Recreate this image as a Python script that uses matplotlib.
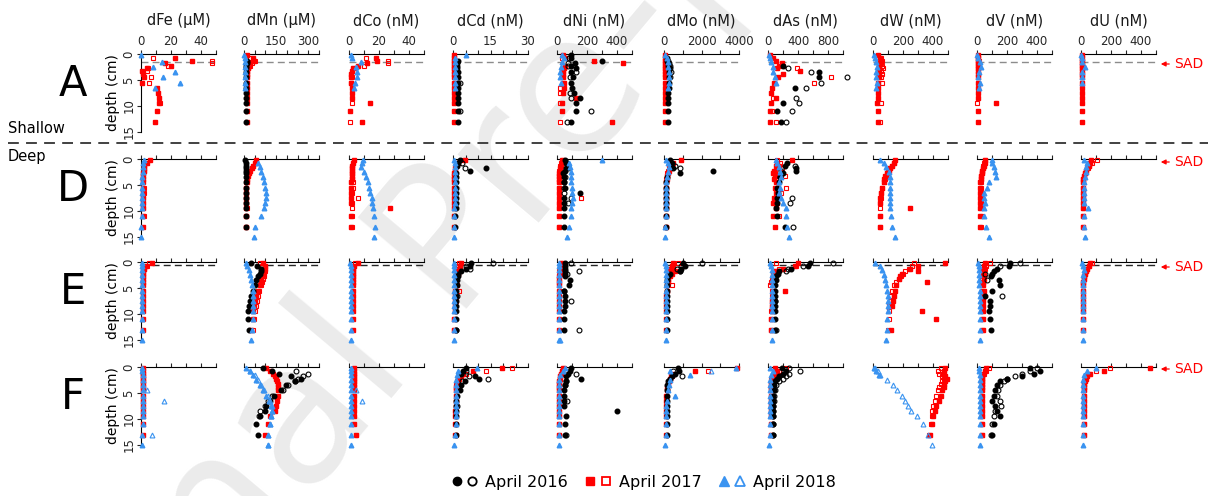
import numpy as np
import matplotlib.pyplot as plt
from matplotlib.lines import Line2D
from matplotlib.patches import FancyArrowPatch
from matplotlib.legend_handler import HandlerTuple

nan = np.nan

titles = ['dFe (μM)', 'dMn (μM)', 'dCo (nM)', 'dCd (nM)', 'dNi (nM)',
          'dMo (nM)', 'dAs (nM)', 'dW (nM)', 'dV (nM)', 'dU (nM)']
x_max = [50, 350, 50, 30, 500, 4000, 1000, 500, 500, 500]
x_step = [10, 50, 10, 5, 100, 1000, 200, 100, 100, 100]
x_labels = [[0, 20, 40], [0, 150, 300], [0, 20, 40], [0, 15, 30], [0, 200, 400],
            [0, 2000, 4000], [0, 400, 800], [0, 200, 400], [0, 200, 400], [0, 200, 400]]
stations = ['A', 'D', 'E', 'F']
sad_depth = [1.5, None, 0.5, None]

# sampling depths (cm) for each campaign
z16 = [0.25, 0.75, 1.25, 1.75, 2.25, 2.75, 3.5, 4.5, 5.5, 6.5, 7.5, 8.5, 9.5, 11, 13]
z17 = [0.25, 0.75, 1.25, 1.75, 2.25, 2.75, 3.25, 3.75, 4.5, 5.5, 6.5, 7.5, 8.5, 9.5, 11, 13]
z18 = [0.25, 0.75, 1.5, 2.5, 3.5, 4.5, 5.5, 6.5, 7.5, 8.5, 9.5, 11, 13, 15]

# ---- station A (shallow); columns Fe, Mn, Co, Cd, Ni, Mo, As, W, V, U
A_16 = [[],
        [nan, nan, 12, 12, 11, 11, 10, 10, 10, 10, 10, 10, 10, 10, 10],
        [],
        [nan, nan, 1.8, 1.5, 1.5, 1.5, 1.8, 1.8, 1.8, 2, 2, 2, 2, 1.8, 1.8],
        [95, 91, 302, 118, 96, 128, 90, 105, 91, 100, 110, 151, 124, 124, 91],
        [nan, 150, 150, 200, 200, 250, 250, 280, 280, 250, 200, 200, 200, 200, 200],
        [nan, nan, nan, nan, 200, nan, 680, 680, nan, 355, nan, nan, 200, 124, 178],
        [], [], []]
A_16o = [[], [], [],
         [nan, nan, nan, nan, nan, nan, nan, nan, 2.7, nan, nan, nan, nan, 2.7, nan],
         [nan, 80, nan, 73, 70, nan, 129, 84, nan, nan, 84, 90, nan, 224, 69],
         [nan, nan, 200, 250, 300, 300, 350, 300],
         [nan, nan, nan, nan, nan, 266, 578, 1050, 700, 500, nan, 378, 413, 320, 244],
         [], [], []]
A_17 = [[nan, 22.7, 33.8, 16, 20, 3.8, 0.5, 1.5, 2, 0.5, 10.4, 11, 11.8, 12, 10.4, 9.3],
        [15, 40, 45, 30, 25, 18, 15, 14, 13, 13, 12, 12, 12, 12, 12, 12],
        [nan, 17.8, 18.7, 12, 6, 2.7, 2, 1.5, 1.5, 1.2, 2.2, 2.2, 1.8, 14, 0.4, 8.9],
        [0.3, 0.3, 0.3, 0.4, 0.5, 0.4, 0.3, 0.3, 0.3, 0.3, 0.4, 0.4, 0.3, 0.3, 0.3, 0.3],
        [40, 55, 247, 440, 50, 45, 42, 40, 42, 45, 48, 40, 124, 35, 35, 367],
        [40, 50, 60, 60, 50, 50, 50, 50, 50, 50, 50, 50, 50, 50, 50, 50],
        [20, 67, 110, 180, 150, 120, 430, 200, 133, 80, 50, 40, 111, 40, 30, 30],
        [30, 45, 50, 45, 40, 40, 38, 40, 38, 35, 35, 30, 30, 28, 30, 35],
        [5, 8, 8, 6, 5, 5, 5, 5, 5, 5, 5, 5, 5, 127, 5, 5],
        [5, 5, 5, 5, 5, 5, 5, 5, 5, 5, 5, 5, 5, 5, 5, 5]]
A_17o = [[nan, 7.8, 47, 47, 17.8, 4.5, 4.2, nan, 6.4, 5, nan, nan, nan, 12.7, nan, nan],
         [nan, 30, 50, 35, 28, 20, 16, 15, 14, 14, 13],
         [nan, 11.5, 26, 26, 9.8, 3, nan, nan, 2.2, 1.5, nan, nan, nan, 2.2, nan, 0.8],
         [],
         [nan, 30, nan, nan, nan, nan, nan, nan, nan, nan, 18, 20, nan, 18, nan, 18],
         [],
         [nan, nan, nan, nan, 200, 390, nan, nan, 844, 613, nan, nan, 60, nan, 58, 111],
         [nan, 55, 60, 55, 60, 65, 55, 60, 55, 60, nan, nan, nan, 50, nan, 45],
         [nan, 5, 10, 6, nan, nan, nan, nan, nan, nan, nan, nan, nan, 3],
         []]
A_18 = [[0, nan, 13.8, 8.2, 22.7, 14.9, 26, 9.3],
        [2, 3, 4, 4, 3, 3, 3, 3],
        [1.5, 2, 8.2, 4.9, 5.5, 5.3, 4, 3],
        [5.1, 0.6, 0.8, 0.8, 0.6, 0.6, 0.6, 0.6],
        [35, 44, 30, 24, 22, 22, 29],
        [50, 150, 200, 200, 250, 250, 250, 200],
        [15, 25, 45, 60, 70, 95, 110],
        [5, 10, 20, 25, 22, 20, 25, 18],
        [2, 5, 18, 27, 10, 8, 22, 10],
        [3, 6, 8, 29, 8, 6, 6]]
A_18o = [[], [], [], [], [], [], [], [], [], []]

# ---- station D
D_16 = [[],
        [5, 8, 10, 10, 10, 10, 10, 10, 10, 9, 8, 8, 8, 8, 8],
        [],
        [2.7, 2, 1.5, 13, 6.7, 1.3, 1.3, 1.3, 1.3, 1.2, 1, 1, 1, 0.8, 0.8],
        [55, 62, 73, 60, 50, 40, 45, 45, 50, 151, 44, 44, 44, 44, 44],
        [300, 400, 350, 500, 2620, 835, 150, 120, 120, 120, 120, 120, 120, 120, 120],
        [nan, 250, 222, 378, 378, 200, 160, 150, 120, 130, 120, 120, 110, 120, 231],
        [], [], []]
D_16o = [[], [], [],
         [nan, 3.5, nan, 4.9],
         [nan, 65, nan, 73, nan, nan, 50, 44, 45, 44, 95, 73],
         [nan, nan, 600, 835],
         [nan, nan, 355, nan, 178, nan, 160, nan, nan, nan, 324, 289, nan, nan, 333],
         [], [], []]
D_17 = [[6, 3.8, 2, 2, 2, 1.5, 1.5, 1.5, 1, 1, 1, 1, 1, 1, 1, 1],
        [58, 50, 42, 36, 30, 25, 19, 15, 12, 11, 10, 10, 10, 10, 10, 10],
        [3, 2.5, 2, 2, 2, 2, 2, 2, 1.5, 1.5, 1.5, 1.5, 1.5, 27, 1.5, 1.5],
        [4.7, 2, 1, 0.8, 0.6, 0.5, 0.5, 0.5, 0.5, 0.5, 0.5, 0.5, 0.5, 0.5, 0.5, 0.5],
        [35, 30, 25, 20, 20, 15, 15, 12, 12, 12, 12, 12, 12, 12, 12, 12],
        [925, 480, 350, 300, 250, 200, 180, 150, 120, 100, 100, 100, 100, 100, 100, 100],
        [324, 120, 100, 150, 80, 70, 90, 80, 100, 90, 100, 80, 70, 100, 70, 90],
        [149, 138, 127, 116, 104, 93, 82, 75, 71, 60, 55, 49, 44, 249, 44, 44],
        [55, 50, 45, 40, 35, 30, 28, 25, 22, 22, 22, 22, 22, 22, 22, 22],
        [69, 60, 50, 40, 30, 25, 20, 15, 12, 12, 10, 10, 10, 10, 10, 10]]
D_17o = [[nan, 3, nan, nan, 2, nan, nan, nan, nan, 2, 2, 1.5, 1.5, 1.5, 2],
         [nan, nan, nan, nan, nan, nan, nan, nan, 11, 11, 10, 10, 10, 12, 10, 10],
         [nan, nan, nan, 2, nan, 2, nan, 2, 2.5, 2.5, 2, 6, 2, 2, 2, 2],
         [4, 1.5, nan, nan, nan, nan, nan, nan, nan, nan, nan, nan, nan, nan, 0.5, 0.5],
         [40, 25, 20, nan, 15, nan, 10, nan, 10, 10, 10, 158, 10, 10, 10, 10],
         [nan, 400, 300, 250, 200, 180, 150, 130, 120, 100, 100, 100, 100, 100, 100, 100],
         [120, 160, 140, 180, 120, 90, 222, 100, nan, 235, 178, 150, 120, 100, 147],
         [nan, 140, 125, 110, 100, 90, 85, 78, 70, 62, 55, 52, 48, 48, 44, 44],
         [50, 45, 40, 38, 35, 30, 28, 25, 25, 25, 25, 25, 28, 28, 30, 25],
         [107, 70, 55, 45, 35, 25, 20, 15, 15, 12, 12, 12, 12, 12, 12, 12]]
D_18 = [[2, 1.5, 1, 1, 0.8, 0.8, 0.8, 0.8, 0.8, 0.8, 0.5, 0.5, 0.3, 0.2],
        [nan, 65, 73, 81, 89, 93, 100, 104, 104, 100, 93, 81, 50, 45],
        [9, 8.5, 8, 10, 11.5, 12.7, 13, 14, 15, 15.5, 16, 16.5, 17, 16.5],
        [0.5, 0.8, 0.8, 0.6, 0.6, 0.6, 0.6, 0.6, 0.6, 0.6, 0.5, 0.4, 0.4, 0.3],
        [302, 80, 85, 90, 95, 95, 100, 100, 105, 100, 95, 90, 78, 69],
        [100, 200, 250, 200, 150, 120, 100, 100, 100, 80, 80, 80, 50, 50],
        [100, 120, 150, 160, 170, 147, 160, 150, 170, 200, 235, 235, 250, 280],
        [44, 71, 89, 104, 111, 111, 111, 113, 115, 115, 111, 122, 127, 149],
        [100, 100, 111, 118, 129, 78, 67, 45, 49, 55, 49, 49, 62, 78],
        [20, 40, 35, 30, 25, 22, 20, 18, 18, 18, 44, 20, 20, 29]]
D_18o = [[], [], [], [], [], [], [], [], [], []]

# ---- station E
E_16 = [[],
        [34, 60, 81, 78, 73, 65, 58, 50, 42, 34, 28, 23, 19, 19, 23],
        [],
        [7.3, 6.7, 5, 3, 2, 1.8, 1.5, 1.5, 1.3, 1.3, 1.3, 1.3, 1.2, 1.2, 1.2],
        [50, 55, 55, 50, 55, 55, 84, 80, 44, 50, 51, 50, 45, 44, 44],
        [1000, 1100, 900, 835, 300, 200, 150, 150, 150, 150, 150, 150, 150, 150, 150],
        [555, 530, 300, 147, 133, 110, 100, 90, 89, 89, 89, 89, 89, 89, 89],
        [],
        [222, 211, 130, 111, 100, 90, 144, 155, 100, 55, 84, 84, 80, 85, 93],
        []]
E_16o = [[], [], [],
         [16, 5.3, 6.7, nan, nan, nan, nan, nan, nan, 1.5, nan, nan, nan, nan, 1.2],
         [95, nan, nan, 147, 69, nan, nan, nan, 44, nan, 95, nan, nan, nan, 147],
         [2000, 900, 700, 835],
         [866, 466, 266, 235, nan, nan, nan, nan, nan, nan, 89, nan, nan, nan, 111],
         [],
         [289, 155, nan, nan, 55, nan, 67, nan, nan, 166],
         []]
E_17 = [[7, 3, 2, 1.5, 1, 1, 1, 1, 1, 1, 1, 1, 1, 1, 1, 1],
        [89, 96, 96, 92, 89, 85, 81, 78, 73, 65, 58, 50, 45, 42, 40, 34],
        [6, 3, 2.5, 2.5, 2.5, 2.5, 2.5, 2.5, 2.5, 2.5, 2.5, 2.5, 2.5, 2.5, 2.5, 2.5],
        [3.3, 2.7, 2.9, 2.5, 2, 1.5, 1, 1, 1, 0.8, 0.8, 0.8, 0.8, 0.8, 0.5, 0.5],
        [29, 29, 25, 20, 18, 15, 15, 15, 15, 15, 12, 12, 12, 12, 12, 12],
        [480, 400, 300, 570, 400, 300, 213, 200, 180, 150, 130, 120, 110, 100, 100, 100],
        [400, 355, 200, 100, 80, 70, 60, 60, 60, 222, 60, 55, 50, 50, 45, 45],
        [482, 298, 249, 298, 193, 180, 170, 360, 156, 145, 138, 130, 127, 327, 422, 122],
        [55, 49, 45, 40, 44, 44, 44, 40, 40, 49, 40, 40, 40, 40, 40, 40],
        [62, 50, 40, 30, 25, 20, 18, 15, 15, 15, 15, 15, 15, 15, 15, 15]]
E_17o = [[5, 4, 2],
         [73, 85, 90, 96, 92, 92, 90, 85, 80, 70, 65, 60, 55, 50, 45, 40],
         [4, 2.5],
         [2.5, 2, 2, 1.5, nan, nan, nan, nan, 1.5, 2.4, 1.2, 1, 0.8, 0.6, 0.5, 0.5],
         [35, 25, 20, 15],
         [750, 500, 400, 300, 250, 200, 200, 200, 430, 150],
         [111, 378, 150, 100, 70, 60, 50, 40, 30, 50, 55, 50, 50, 45, 45, 40],
         [270, 260, 240, 216, 200, 189, 170, 150, 138, 125, 116, 110, 108, 104, 104, 100],
         [89, 60, 50, 45, 40, 40, 33, 33, 33, 35, 35, 35, 35, 35, 35, 35],
         [73, 51, 40, 30, 25, 20, 18, 15, 15, 15, 15, 15, 15, 15, 15, 15]]
E_18 = [[0.5, 0.5, 0.5, 0.5, 0.5, 0.5, 0.5, 0.5, 0.5, 0.5, 0.5, 0.5, 0.5, 0.5],
        [8, 15, 22, 28, 33, 37, 40, 42, 42, 42, 42, 42, 39, 34],
        [0.5, 1, 1, 1.2, 1.2, 1.2, 1.2, 1.2, 1.2, 1.2, 1.2, 1.2, 1.2, 1.2],
        [0.2, 0.3, 0.5, 0.5, 0.5, 0.5, 0.5, 0.5, 0.5, 0.5, 0.5, 0.4, 0.3, 0.2],
        [10, 12, 12, 12, 12, 12, 12, 12, 12, 12, 12, 12, 12, 12],
        [50, 125, 120, 100, 100, 100, 100, 100, 100, 100, 100, 100, 100, 100],
        [20, 40, 50, 55, 55, 55, 55, 55, 55, 55, 55, 55, 50, 50],
        [15, 49, 60, 70, 80, 89, 93, 98, 98, 98, 98, 95, 93, 89],
        [5, 10, 15, 15, 15, 15, 18, 18, 18, 18, 18, 18, 18, 18],
        [7, 15, 18, 15, 15, 15, 15, 15, 15, 15, 15, 15, 15, 12]]
E_18o = [[], [], [], [],
         [nan, nan, nan, nan, nan, nan, nan, nan, nan, nan, nan, nan, nan, 20],
         [], [], [], [], []]

# ---- station F
F_16 = [[],
        [89, 130, 163, 220, 264, 240, 194, 171, 140, 123, 104, 96, 73, 58, 65],
        [],
        [5.3, 4, 3, 8.7, 10.4, 4.7, 3.3, 2.7, 1.5, 1.3, 1.2, 1.2, 1.2, 1, 1],
        [96, 84, 70, 60, 162, 62, 51, 47, 47, 47, 47, 400, 62, 51, 51],
        [750, 800, 600, 400, 300, 200, 150, 150, 150, 150, 150, 150, 150, 150, 150],
        [180, 235, 200, 150, 120, 90, 75, 75, 70, 70, 70, 70, 70, 70, 70],
        [],
        [350, 420, 380, 300, 200, 150, 130, 120, 110, 100, 120, 130, 150, 110, 100],
        []]
F_16o = [[],
         [nan, 244, 299, 276, 250, 237, 205, 180, 132, 112, 96, 73, 70],
         [],
         [nan, 5.3, nan, 6.4, 14, 3.7, nan, nan, nan, nan, 1.6],
         [nan, nan, 129, nan, nan, 62, 55, nan, nan, 69, nan, nan, nan, nan, 58],
         [nan, 500, nan, 960],
         [280, 422, 280, 244, 200, 150, 100, 90, 80, 75, 67, 67, 67, 67, 67],
         [],
         [400, 353, 300, 250, 200, 180, 150, 140, 130, 150, 160, 120, 110, 100, 90],
         []]
F_17 = [[1.5, 1.5, 1.2, 1.2, 1.2, 1.2, 1.2, 1, 1, 1, 1, 1, 1, 1, 1, 1],
        [104, 120, 135, 145, 151, 155, 158, 158, 158, 158, 155, 151, 143, 120, 112, 96],
        [3, 3, 3, 3, 3, 3, 3, 3, 3, 3, 3, 3, 3, 3, 3, 4.9],
        [19.7, 8, 4, 3, 2.4, 2, 1.5, 1, 1, 1, 1, 1, 0.8, 0.8, 0.8, 0.8],
        [40, 30, 25, 20, 18, 15, 15, 15, 15, 15, 15, 15, 15, 15, 15, 15],
        [3900, 1640, 500, 390, 300, 250, 200, 180, 150, 130, 120, 110, 100, 100, 100, 100],
        [89, 120, 100, 80, 60, 50, 40, 40, 35, 35, 35, 35, 35, 35, 35, 35],
        [480, 470, 465, 480, 490, 480, 470, 470, 460, 450, 440, 420, 410, 400, 390, 380],
        [60, 50, 40, 35, 30, 30, 30, 30, 30, 30, 30, 30, 30, 30, 30, 30],
        [460, 150, 60, 40, 30, 25, 20, 20, 20, 20, 20, 20, 20, 20, 20, 20]]
F_17o = [[],
         [],
         [],
         [23.7, 13.3, 5, 2.4, 2, 1.5, 1, 1, 1, 1, 1, 1, 1, 1, 1, 1],
         [45, 35, 25, 20, 18, 15, 15, 15, 15, 15, 15, 15, 15, 15, 15, 15],
         [nan, 2350, nan, 400, 300],
         [244, 150, 100, 60, 40, 35, 35, 35, 35, 35, 35, 35, 35, 35, 35, 35],
         [450, 430, 440, 460, 470, 460, 450, 440, 430, 420, 410, 400, 395, 390, 385, 370],
         [80, 60, 45, 35, 30, 30, 30, 30, 30, 30, 30, 30, 30, 30, 30, 30],
         [190, 100, 50, 35, 25, 20, 20, 20, 20, 20, 20, 20, 20, 20, 20, 20]]
F_18 = [[0.5, 0.8, 1, 1, 1, 1, 1, 1, 1, 1, 1, 1, 0.8, 0.5],
        [11, 26, 42, 58, 73, 89, 104, 117, 128, 132, 128, 120, 112, 112],
        [1, 1.5, 1.5, 1.5, 1.5, 1.5, 1.5, 1.5, 1.5, 1.5, 1.5, 1.5, 1.5, 1],
        [9.6, 2, 1.5, 1.2, 1, 1, 1, 1, 1, 1, 1, 1, 0.8, 0.5],
        [50, 40, 20, 15, 15, 15, 15, 15, 15, 15, 15, 15, 15, 12],
        [3860, 300, 1400, 300, 250, 200, 570, 150, 120, 100, 100, 100, 80, 60],
        [20, 67, 40, 30, 25, 25, 25, 25, 25, 25, 25, 25, 20, 15],
        [5, 20, 40],
        [10, 15, 20, 20, 20, 20, 20, 20, 20, 20, 20, 20, 20, 20],
        [100, 40, 20, 15, 15, 15, 15, 15, 15, 15, 15, 15, 15, 15]]
F_18o = [[nan, nan, nan, nan, nan, 3.8, nan, 15.6, nan, nan, nan, nan, 7],
         [nan, 30, 50, 65, 80, 95, 110, 120, 130, 130, 125, 120, 110, 112],
         [nan, nan, nan, nan, nan, 4.9, nan, 8.9],
         [],
         [],
         [nan, 2530],
         [],
         [10, 30, 47, 90, 133, 160, 190, 213, 235, 250, 293, 333, 367, 393],
         [],
         []]

profiles = {'A': (A_16, A_16o, A_17, A_17o, A_18, A_18o),
            'D': (D_16, D_16o, D_17, D_17o, D_18, D_18o),
            'E': (E_16, E_16o, E_17, E_17o, E_18, E_18o),
            'F': (F_16, F_16o, F_17, F_17o, F_18, F_18o)}

blue = '#3a93f0'
# (index in station tuple, depths, marker, colour, filled), drawn in this order
styles = [(2, z17, 's', 'red', True), (3, z17, 's', 'red', False),
          (0, z16, 'o', 'black', True), (1, z16, 'o', 'black', False),
          (4, z18, '^', blue, True), (5, z18, '^', blue, False)]

W, H = 1208, 496
col_x = [141, 244, 349, 453, 557, 664, 768, 873, 977, 1081]
row_y = [54, 159, 262, 367]
pw, ph = 75, 78

fig = plt.figure(figsize=(W / 100, H / 100), dpi=100)

# faint diagonal stamp behind the panels
fig.text(0.385, 0.52, 'Journal Pre-proof', rotation=50, fontsize=140,
         color='#ebebeb', ha='center', va='center', zorder=-5)


def plot_series(ax, z, vals, marker, color, filled):
    n = min(len(z), len(vals))
    if n == 0:
        return
    if filled:
        ax.plot(vals[:n], z[:n], ls='none', marker=marker, ms=3.3, color=color,
                mec=color, clip_on=False, zorder=3)
    else:
        ax.plot(vals[:n], z[:n], ls='none', marker=marker, ms=3.5, mfc='none',
                mec=color, mew=0.8, clip_on=False, zorder=3)


for r, st in enumerate(stations):
    data = profiles[st]
    for c in range(10):
        ax = fig.add_axes([col_x[c] / W, 1 - (row_y[r] + ph) / H, pw / W, ph / H])
        ax.patch.set_visible(False)
        ax.set_xlim(0, x_max[c])
        ax.set_ylim(15, 0)
        ax.spines['right'].set_visible(False)
        ax.spines['bottom'].set_visible(False)
        ax.spines['left'].set_visible(c == 0)
        ax.xaxis.tick_top()
        ticks = np.arange(0, x_max[c] + 1, x_step[c])
        ax.set_xticks(ticks)
        if r == 0:
            ax.set_xticklabels([str(t) if t in x_labels[c] else '' for t in ticks])
        else:
            ax.set_xticklabels([])
        ax.tick_params(axis='x', direction='out', length=3, width=0.8,
                       labelsize=8.5, pad=1, colors='0.15')
        if c == 0:
            ax.set_yticks([0, 5, 10, 15])
            ax.set_yticklabels(['0', '5', '10', '15'], rotation=90, va='center')
            ax.tick_params(axis='y', direction='out', length=3, width=0.8,
                           labelsize=8.5, pad=1, colors='0.15')
            ax.set_ylabel('depth (cm)', fontsize=10, labelpad=2)
        else:
            ax.set_yticks([])

        if sad_depth[r] is not None:
            ax.axhline(sad_depth[r], color='0.55' if r == 0 else '0.15',
                       ls=(0, (5, 3)), lw=1, zorder=1)

        for k, z, mk, col, filled in styles:
            plot_series(ax, z, data[k][c], mk, col, filled)

        if r == 0:
            fig.text((col_x[c] + pw / 2) / W, 1 - 21 / H, titles[c],
                     ha='center', va='center', fontsize=10.5, color='0.1')

    # station letter and SAD marker
    fig.text(73 / W, 1 - (row_y[r] + 30) / H, st, ha='center', va='center',
             fontsize=30)
    ys = 1 - (row_y[r] + [10, 3, 5, 2][r]) / H
    fig.add_artist(FancyArrowPatch((1172 / W, ys), (1158 / W, ys),
                                   transform=fig.transFigure, arrowstyle='-|>',
                                   mutation_scale=7, color='red', lw=0.9))
    fig.text(1174 / W, ys, 'SAD', color='red', fontsize=10, va='center', ha='left')

# shallow / deep separator
fig.add_artist(Line2D([8 / W, 1], [1 - 143 / H, 1 - 143 / H], transform=fig.transFigure,
                      color='0.2', ls=(0, (6, 4)), lw=1.3))
fig.text(8 / W, 1 - 129 / H, 'Shallow', fontsize=10.5, va='center', ha='left')
fig.text(8 / W, 1 - 157 / H, 'Deep', fontsize=10.5, va='center', ha='left')

# legend
h16 = (Line2D([], [], ls='none', marker='o', color='black', ms=6),
       Line2D([], [], ls='none', marker='o', mfc='none', mec='black', mew=1.3, ms=6))
h17 = (Line2D([], [], ls='none', marker='s', color='red', ms=6),
       Line2D([], [], ls='none', marker='s', mfc='none', mec='red', mew=1.3, ms=6))
h18 = (Line2D([], [], ls='none', marker='^', color=blue, ms=7),
       Line2D([], [], ls='none', marker='^', mfc='none', mec=blue, mew=1.3, ms=7))
fig.legend(handles=[h16, h17, h18], labels=['April 2016', 'April 2017', 'April 2018'],
           handler_map={tuple: HandlerTuple(ndivide=None, pad=0.2)},
           loc='center', bbox_to_anchor=(643 / W, 1 - 482 / H), ncol=3,
           frameon=False, fontsize=11.5, handlelength=1.8, handletextpad=0.4,
           columnspacing=1.0)

fig.savefig('out.png', dpi=100)
